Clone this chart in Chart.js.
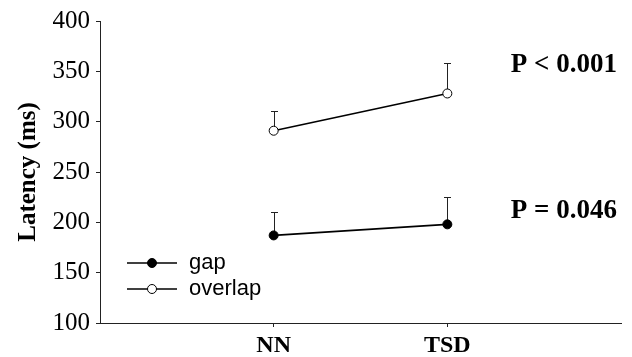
<!DOCTYPE html>
<html>
<head>
<meta charset="utf-8">
<script src="https://cdn.jsdelivr.net/npm/chart.js@4/dist/chart.umd.min.js"></script>
<style>
  html, body { margin: 0; padding: 0; background: #fff; }
  #wrap { width: 632px; height: 357px; position: relative; }
</style>
</head>
<body>
<div id="wrap"><canvas id="c"></canvas></div>
<script>
const categories = ["NN", "TSD"];
const gapMean = [187, 198];
const gapErr = [23, 27];
const overlapMean = [291, 328];
const overlapErr = [20, 30];
const yTicks = [100, 150, 200, 250, 300, 350, 400];
const pLabels = [
  { text: "P < 0.001", y: 356 },
  { text: "P = 0.046", y: 211 },
];

const INK = "#222";
const serif = "'Liberation Serif', 'Times New Roman', serif";
const sans = "'Liberation Sans', Arial, sans-serif";

const toPoints = (arr) => arr.map((v, i) => ({ x: i + 1, y: v }));

const errorBars = {
  id: "errorBars",
  beforeDatasetsDraw(chart) {
    const { ctx, scales } = chart;
    ctx.save();
    ctx.strokeStyle = INK;
    ctx.lineWidth = 1;
    chart.data.datasets.forEach((ds) => {
      ds.data.forEach((p, i) => {
        const x = Math.round(scales.x.getPixelForValue(p.x)) + 0.5;
        const y0 = scales.y.getPixelForValue(p.y);
        const y1 = Math.round(scales.y.getPixelForValue(p.y + ds.err[i])) + 0.5;
        ctx.beginPath();
        ctx.moveTo(x, y0);
        ctx.lineTo(x, y1);
        ctx.moveTo(x - 3.5, y1);
        ctx.lineTo(x + 3.5, y1);
        ctx.stroke();
      });
    });
    ctx.restore();
  },
};

const extras = {
  id: "extras",
  afterDraw(chart) {
    const { ctx, chartArea, scales } = chart;
    ctx.save();
    // p-values
    ctx.fillStyle = "#000";
    ctx.font = "bold 27px " + serif;
    ctx.textAlign = "right";
    ctx.textBaseline = "middle";
    pLabels.forEach((p) => {
      ctx.fillText(p.text, chartArea.right - 4, scales.y.getPixelForValue(p.y));
    });
    // legend
    const lx = chartArea.left + 27;
    const items = [
      { label: "gap", fill: "#000" },
      { label: "overlap", fill: "#fff" },
    ];
    ctx.font = "22px " + sans;
    ctx.textAlign = "left";
    items.forEach((it, i) => {
      const y = chartArea.top + 242 + i * 26;
      ctx.strokeStyle = "#000";
      ctx.lineWidth = 1.6;
      ctx.beginPath();
      ctx.moveTo(lx, y);
      ctx.lineTo(lx + 50, y);
      ctx.stroke();
      ctx.beginPath();
      ctx.arc(lx + 25, y, 4.5, 0, Math.PI * 2);
      ctx.fillStyle = it.fill;
      ctx.fill();
      ctx.lineWidth = 1;
      ctx.stroke();
      ctx.fillStyle = "#000";
      ctx.fillText(it.label, lx + 62, y);
    });
    ctx.restore();
  },
};

new Chart(document.getElementById("c"), {
  type: "line",
  data: {
    datasets: [
      {
        label: "gap",
        data: toPoints(gapMean),
        err: gapErr,
        borderColor: "#000",
        borderWidth: 1.6,
        pointRadius: 4.5,
        pointBackgroundColor: "#000",
        pointBorderColor: "#000",
        pointBorderWidth: 1,
      },
      {
        label: "overlap",
        data: toPoints(overlapMean),
        err: overlapErr,
        borderColor: "#000",
        borderWidth: 1.6,
        pointRadius: 4.5,
        pointBackgroundColor: "#fff",
        pointBorderColor: "#000",
        pointBorderWidth: 1,
      },
    ],
  },
  options: {
    responsive: true,
    maintainAspectRatio: false,
    animation: false,
    layout: { padding: { top: 20, right: 11, left: 0, bottom: 0 } },
    plugins: { legend: { display: false }, tooltip: { enabled: false } },
    scales: {
      x: {
        type: "linear",
        min: 0,
        max: 3,
        afterBuildTicks: (axis) => {
          axis.ticks = categories.map((_, i) => ({ value: i + 1 }));
        },
        afterFit: (axis) => { axis.height = 34; },
        ticks: {
          callback: (v) => categories[v - 1],
          color: "#000",
          font: { family: serif, size: 24, weight: "bold" },
          padding: 4,
          maxRotation: 0,
        },
        grid: { drawOnChartArea: false, drawTicks: true, tickLength: 4, color: INK },
        border: { display: true, color: INK, width: 1 },
      },
      y: {
        min: 100,
        max: 400,
        afterBuildTicks: (axis) => {
          axis.ticks = yTicks.map((v) => ({ value: v }));
        },
        afterFit: (axis) => { axis.width = 100; },
        ticks: {
          color: "#000",
          font: { family: serif, size: 25 },
          padding: 6,
        },
        title: {
          display: true,
          text: "Latency (ms)",
          color: "#000",
          font: { family: serif, size: 25, weight: "bold" },
          padding: { top: 14, bottom: 0 },
        },
        grid: { drawOnChartArea: false, drawTicks: true, tickLength: 4, color: INK },
        border: { display: true, color: INK, width: 1 },
      },
    },
  },
  plugins: [errorBars, extras],
});
</script>
</body>
</html>
